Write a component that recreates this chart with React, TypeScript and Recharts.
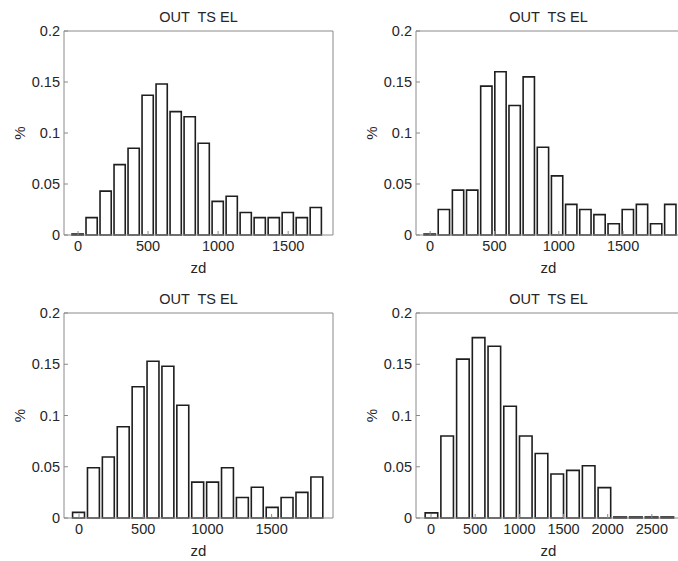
import { BarChart, Bar, XAxis, YAxis } from "recharts";

const TITLE = "OUT  TS EL";
const Y_TICKS = [0, 0.05, 0.1, 0.15, 0.2];

// top-left
const zd1 = [0, 100, 200, 300, 400, 500, 600, 700, 800, 900, 1000, 1100, 1200, 1300, 1400, 1500, 1600, 1700];
const pct1 = [0, 0.017, 0.043, 0.069, 0.085, 0.137, 0.148, 0.121, 0.116, 0.09, 0.033, 0.038, 0.022, 0.017, 0.017, 0.022, 0.017, 0.027];
const xTicks1 = [0, 500, 1000, 1500];

// top-right
const zd2 = [0, 110, 220, 330, 440, 550, 660, 770, 880, 990, 1100, 1210, 1320, 1430, 1540, 1650, 1760, 1870];
const pct2 = [0, 0.025, 0.044, 0.044, 0.146, 0.16, 0.127, 0.155, 0.086, 0.058, 0.03, 0.025, 0.02, 0.011, 0.025, 0.03, 0.011, 0.03];
const xTicks2 = [0, 500, 1000, 1500];

// bottom-left
const zd3 = [0, 116, 232, 348, 464, 580, 696, 812, 928, 1044, 1160, 1276, 1392, 1508, 1624, 1740, 1856];
const pct3 = [0.0055, 0.049, 0.0595, 0.089, 0.128, 0.153, 0.148, 0.11, 0.035, 0.035, 0.049, 0.02, 0.03, 0.0104, 0.02, 0.025, 0.04];
const xTicks3 = [0, 500, 1000, 1500];

// bottom-right
const zd4 = [0, 178, 356, 534, 712, 890, 1068, 1246, 1424, 1602, 1780, 1958, 2136, 2314, 2492, 2670];
const pct4 = [0.005, 0.08, 0.155, 0.176, 0.1675, 0.109, 0.08, 0.063, 0.043, 0.0465, 0.051, 0.0296, 0, 0, 0, 0];
const xTicks4 = [0, 500, 1000, 1500, 2000, 2500];

const FONT = "'Liberation Sans', Arial, sans-serif";
const TEXT = "#262626";
const BOX = "#8a8a8a";
const EDGE = "#1e1e1e";

type Props = {
  zd: number[];
  pct: number[];
  xTicks: number[];
  xDomain: [number, number];
  left: number;
  top: number;
  width: number;
  height: number;
  plotLeft: number; // y axis width
  plotTop: number;
  plotRight: number; // space right of the box
  plotBottom: number; // x axis height
};

function Hist(p: Props) {
  const data = p.zd.map((z, i) => ({ zd: z, pct: p.pct[i] }));
  const plotW = p.width - p.plotLeft - p.plotRight;
  const barSize = ((plotW / (p.xDomain[1] - p.xDomain[0])) * (p.zd[1] - p.zd[0])) * 0.8;
  const tick = { fill: TEXT, fontSize: 14.5, fontFamily: FONT };

  const title = (lp: any) => {
    const vb = lp.viewBox;
    return (
      <text x={vb.x + vb.width / 2} y={vb.y + vb.height - 14} textAnchor="middle" dominantBaseline="central"
        fill={TEXT} fontSize={14.5} fontFamily={FONT} style={{ whiteSpace: "pre" }}>
        {TITLE}
      </text>
    );
  };
  const xLabel = (lp: any) => {
    const vb = lp.viewBox;
    return (
      <text x={vb.x + vb.width / 2} y={vb.y + 32} textAnchor="middle" dominantBaseline="central"
        fill={TEXT} fontSize={15} fontFamily={FONT}>
        zd
      </text>
    );
  };
  const yLabel = (lp: any) => {
    const vb = lp.viewBox;
    const cx = vb.x + vb.width - 45;
    const cy = vb.y + vb.height / 2;
    return (
      <text x={cx} y={cy} textAnchor="middle" dominantBaseline="central" transform={`rotate(-90 ${cx} ${cy})`}
        fill={TEXT} fontSize={15} fontFamily={FONT}>
        %
      </text>
    );
  };

  return (
    <div style={{ position: "absolute", left: p.left, top: p.top }}>
      <BarChart width={p.width} height={p.height} data={data}
        margin={{ top: p.plotTop - 1, right: p.plotRight - 1, left: 0, bottom: 0 }}>
        <XAxis xAxisId="b" dataKey="zd" type="number" domain={p.xDomain} allowDataOverflow ticks={p.xTicks}
          height={p.plotBottom} tick={tick} tickSize={-4} tickMargin={10}
          axisLine={{ stroke: BOX }} tickLine={{ stroke: BOX }} label={xLabel} />
        <XAxis xAxisId="t" orientation="top" dataKey="zd" type="number" domain={p.xDomain} allowDataOverflow
          ticks={p.xTicks} height={1} tick={false} tickSize={-4}
          axisLine={{ stroke: BOX }} tickLine={{ stroke: BOX }} label={title} />
        <YAxis yAxisId="l" domain={[0, 0.2]} ticks={Y_TICKS} width={p.plotLeft} tick={tick} tickSize={-4}
          tickMargin={8} axisLine={{ stroke: BOX }} tickLine={{ stroke: BOX }} label={yLabel} />
        <YAxis yAxisId="r" orientation="right" domain={[0, 0.2]} ticks={Y_TICKS} width={1} tick={false}
          tickSize={-4} axisLine={{ stroke: BOX }} tickLine={{ stroke: BOX }} />
        <Bar xAxisId="b" yAxisId="l" dataKey="pct" barSize={barSize} fill="#ffffff" stroke={EDGE}
          strokeWidth={1.6} minPointSize={1} isAnimationActive={false} />
      </BarChart>
    </div>
  );
}

export default function App() {
  return (
    <div style={{ position: "absolute", left: 0, top: 0, width: 678, height: 561, overflow: "hidden", background: "#fff" }}>
      <Hist zd={zd1} pct={pct1} xTicks={xTicks1} xDomain={[-100, 1820]}
        left={0} top={0} width={340} height={280} plotLeft={64} plotTop={31} plotRight={7} plotBottom={45} />
      <Hist zd={zd2} pct={pct2} xTicks={xTicks2} xDomain={[-110, 1950]}
        left={340} top={0} width={345} height={280} plotLeft={76} plotTop={31} plotRight={4} plotBottom={45} />
      <Hist zd={zd3} pct={pct3} xTicks={xTicks3} xDomain={[-117, 1978]}
        left={0} top={280} width={340} height={281} plotLeft={64} plotTop={33} plotRight={7} plotBottom={43} />
      <Hist zd={zd4} pct={pct4} xTicks={xTicks4} xDomain={[-170, 2830]}
        left={340} top={280} width={345} height={281} plotLeft={76} plotTop={33} plotRight={4} plotBottom={43} />
    </div>
  );
}
